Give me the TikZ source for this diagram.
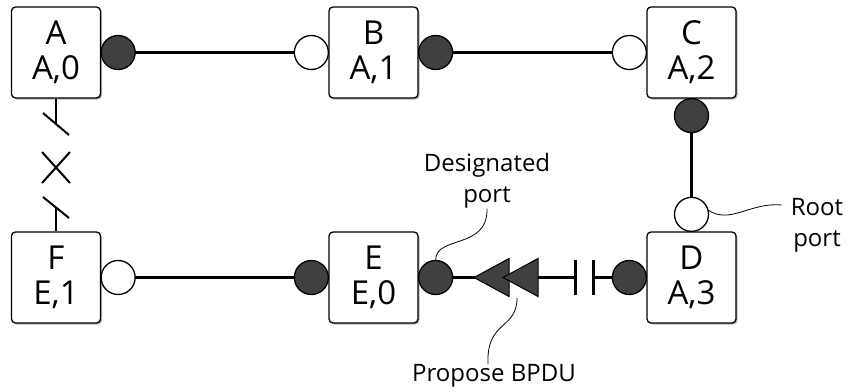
\documentclass[tikz,border=0pt]{standalone}
\usepackage{fontspec}
\setmainfont{Open Sans}
\usetikzlibrary{arrows.meta, positioning, shapes.misc, shadows}
\colorlet{portfill}{black!75}
\tikzset{
  switch/.style={draw, line width=1.3pt, rounded corners=4pt, fill=white, minimum width=89pt, minimum height=91pt,
    inner sep=0pt, align=center, font=\fontsize{33}{35}\selectfont,
    drop shadow={shadow xshift=1.5pt, shadow yshift=-1.5pt, opacity=0.6}},
  port/.style={circle, draw, line width=1.3pt, minimum size=34pt, inner sep=0pt, outer sep=0pt},
  port on/.style={port, fill=portfill},
  port off/.style={port, fill=white},
  link/.style={line width=2.6pt},
  cut/.style={line width=2pt},
  leader/.style={line width=0.8pt},
  note/.style={font=\fontsize{24}{31}\selectfont, align=center, inner sep=0pt},
  bpdu/.style={draw=black, line width=1pt, fill=portfill}
}

\begin{document}
\begin{tikzpicture}[x=1pt, y=-1pt]
  \useasboundingbox (0,0) rectangle (848,391);

  % switches: name, root id, cost
  \node[switch] (A) at (56,52.5)    {A\\A,0};
  \node[switch] (B) at (373.5,52.5) {B\\A,1};
  \node[switch] (C) at (691.5,52.5) {C\\A,2};
  \node[switch] (D) at (691.5,277.5) {D\\A,3};
  \node[switch] (E) at (373.5,277.5) {E\\E,0};
  \node[switch] (F) at (56,277.5)   {F\\E,1};

  % ports (filled = designated, open = root)
  \node[port on,  right=0pt of A] (A-east) {};
  \node[port off, left=0pt of B]  (B-west) {};
  \node[port on,  right=0pt of B] (B-east) {};
  \node[port off, left=0pt of C]  (C-west) {};
  \node[port on,  below=0pt of C] (C-south) {};
  \node[port off, above=0pt of D] (D-north) {};
  \node[port on,  left=0pt of D]  (D-west) {};
  \node[port on,  right=0pt of E] (E-east) {};
  \node[port on,  left=0pt of E]  (E-west) {};
  \node[port off, right=0pt of F] (F-east) {};

  % links
  \draw[link] (A-east) -- (B-west);
  \draw[link] (B-east) -- (C-west);
  \draw[link] (C-south) -- (D-north);
  \draw[link] (E-west) -- (F-east);

  % D -- E link, cut by the sync gap
  \coordinate (gapL) at (577,277.5);
  \coordinate (gapR) at (592,277.5);
  \draw[link, -{Bar[width=35pt]}] (E-east) -- (gapL);
  \draw[link, {Bar[width=35pt]}-] (gapR) -- (D-west);
  \foreach \tip [count=\i] in {474,503}
    \filldraw[bpdu] (\tip,277.5) coordinate (bpdu\i) -- ++(35,-19) -- ++(0,38) -- cycle;

  % A -- F link, blocked
  \coordinate (cutA) at (56,124);
  \coordinate (cutF) at (56,207);
  \draw[link] (A.south) -- (cutA);
  \draw[link] (F.north) -- (cutF);
  \draw[cut] ([shift={(-13,-11)}]cutA) -- ([shift={(13,11)}]cutA);
  \draw[cut] ([shift={(-13,-10)}]cutF) -- ([shift={(13,11)}]cutF);
  \node[cross out, draw, cut, minimum width=26pt, minimum height=29pt, inner sep=0pt] (block) at (56,167.5) {};

  % callouts
  \node[note] (desig) at (487,181) {Designated\\port};
  \node[note] (propose) at (494,376) {Propose BPDU};
  \node[note] (root) at (817,225) {Root\\port};
  \draw[leader] (E-east.north) .. controls (435,235) and (488,250) .. (desig.south);
  \draw[leader] ([shift={(14,20.5)}]bpdu2) .. controls (517,330) and (486,320) .. ([xshift=-6pt]propose.north);
  \draw[leader] (D-north.15) .. controls (730,225) and (750,202) .. ([shift={(-9pt,20pt)}]root.west);
\end{tikzpicture}
\end{document}
